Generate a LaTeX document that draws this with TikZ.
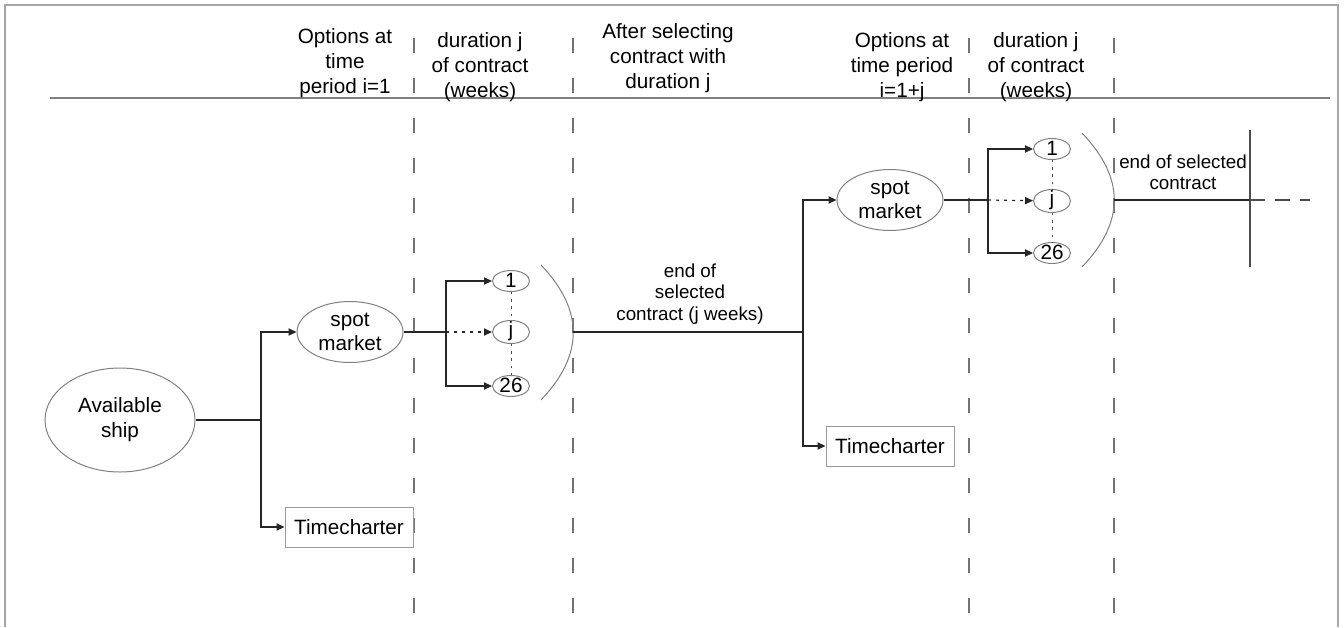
\documentclass[tikz,border=0pt]{standalone}
\usepackage{fontspec}
\setmainfont{Liberation Sans}
\usetikzlibrary{positioning,arrows.meta,shapes.geometric}

\newcommand{\hdfont}{\fontsize{10.35}{12.4}\selectfont}
\newcommand{\lbfont}{\fontsize{9.4}{10.8}\selectfont}

\begin{document}
\begin{tikzpicture}[x=0.5pt, y=-0.5pt,
  oval/.style={ellipse, draw=black!50, line width=0.5pt, inner sep=0pt, align=center, font=\hdfont},
  small/.style={ellipse, draw=black!50, line width=0.5pt, inner sep=0pt, minimum width=18.5pt, minimum height=10.5pt, text height=6pt, text depth=0pt, font=\hdfont},
  box/.style={draw=black!40, line width=0.5pt, minimum width=64pt, minimum height=20pt, inner sep=0pt, font=\hdfont},
  hdr/.style={align=center, anchor=north, inner sep=0pt, font=\hdfont},
  lbl/.style={align=center, anchor=north, inner sep=0pt, font=\lbfont},
  line/.style={draw=black!85, line width=0.6pt},
  arrow/.style={line, -{Triangle[length=4pt, width=3.6pt]}},
  darrow/.style={arrow, dash pattern=on 1.5pt off 2.5pt},
  dline/.style={draw=black!70, line width=0.5pt, dash pattern=on 1.2pt off 2.4pt},
  colsep/.style={draw=black!55, line width=0.6pt, dash pattern=on 7.5pt off 12.5pt},
]

\useasboundingbox (0,0) rectangle (1344,627);

% Frame and header rule
\draw[black!35, line width=0.8pt] (5,627) -- (5,5) -- (1338,5) -- (1338,627);
\draw[black!50, line width=0.6pt] (50,98) -- (1330,98);

% Column separators
\foreach \x in {414,573,969,1114}
  \draw[colsep] (\x,38) -- (\x,613);

% Header
\node[hdr] (hopt1) at (345,28) {Options at\\time\\period i=1};
\node[hdr] (hdur1) at (480,32) {duration j\\of contract\\(weeks)};
\node[hdr] (hsel) at (668,23) {After selecting\\contract with\\duration j};
\node[hdr] (hopt2) at (902,32) {Options at\\time period\\i=1+j};
\node[hdr] (hdur2) at (1036,32) {duration j\\of contract\\(weeks)};

% First period
\node[oval, minimum width=75pt, minimum height=52pt] (ship) at (120,420) {Available\\ship};
\node[oval, minimum width=53pt, minimum height=30.5pt] (spot1) at (350,332) {spot\\market};
\node[box] (tc1) at (349,527) {Timecharter};
\node[small] (d1a) at (511,281) {1};
\node[small, text depth=2pt, minimum height=11.5pt] (dja) at (511,332) {j};
\node[small] (d26a) at (511,386) {26};

\coordinate (split1) at (261,420);
\coordinate (split2) at (446,332);
\coordinate (end1) at (573,332);

\draw[line] (ship) -- (split1);
\draw[arrow] (split1) |- (spot1);
\draw[arrow] (split1) |- (tc1);
\draw[line] (spot1) -- (split2);
\draw[arrow] (split2) |- (d1a);
\draw[darrow] (split2) -- (dja);
\draw[arrow] (split2) |- (d26a);
\draw[dline] (d1a) -- (dja);
\draw[dline] (dja) -- (d26a);
\draw[black!50, line width=0.5pt] (541,265) .. controls (584,310) and (584,355) .. (541,400);

% End of contract
\coordinate (split3) at (803,332);
\node[lbl] (lend1) at (690,263) {end of\\selected\\contract (j weeks)};
\draw[line] (end1) -- (split3);

% Second period
\node[oval, minimum width=53pt, minimum height=30.5pt] (spot2) at (890,200) {spot\\market};
\node[box] (tc2) at (890,446) {Timecharter};
\node[small] (d1b) at (1052,149) {1};
\node[small, text depth=2pt, minimum height=11.5pt] (djb) at (1052,201) {j};
\node[small] (d26b) at (1052,253) {26};

\coordinate (split4) at (988,200);
\coordinate (end2) at (1114,200);

\draw[arrow] (split3) |- (spot2);
\draw[arrow] (split3) |- (tc2);
\draw[line] (spot2) -- (split4);
\draw[arrow] (split4) |- (d1b);
\draw[darrow] (split4) -- (djb);
\draw[arrow] (split4) |- (d26b);
\draw[dline] (d1b) -- (djb);
\draw[dline] (djb) -- (d26b);
\draw[black!50, line width=0.5pt] (1082,133) .. controls (1125,178) and (1125,222) .. (1082,267);

% Final contract end
\node[lbl] (lend2) at (1183,154) {end of selected\\contract};
\coordinate (stop) at (1250,200);
\coordinate (stoptop) at (1250,130);
\coordinate (stopbot) at (1250,267);
\coordinate (more) at (1310,200);
\draw[line] (end2) -- (stop);
\draw[line, black!70] (stoptop) -- (stopbot);
\draw[line, black!70, dash pattern=on 7.5pt off 5pt] (stop) -- (more);

\end{tikzpicture}
\end{document}
